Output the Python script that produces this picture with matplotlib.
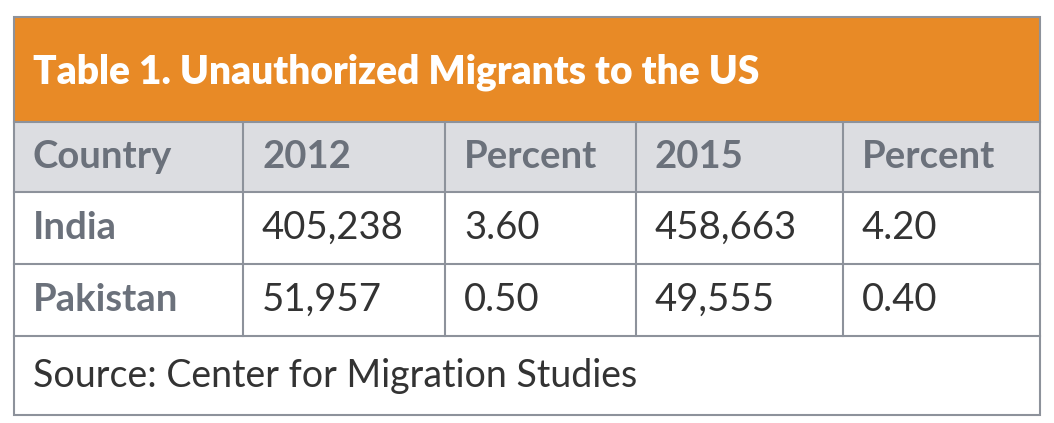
import matplotlib
matplotlib.use("Agg")
import matplotlib.pyplot as plt
from matplotlib.patches import Rectangle

title = "Table 1. Unauthorized Migrants to the US"
headers = ["Country", "2012", "Percent", "2015", "Percent"]
countries = ["India", "Pakistan"]
v2012 = ["405,238", "51,957"]
p2012 = ["3.60", "0.50"]
v2015 = ["458,663", "49,555"]
p2015 = ["4.20", "0.40"]
source = "Source: Center for Migration Studies"

W, H = 1054, 423
fig = plt.figure(figsize=(W/100, H/100), dpi=100)
ax = fig.add_axes([0, 0, 1, 1])
ax.set_xlim(0, W); ax.set_ylim(H, 0); ax.axis("off")

L, R = 14, 1040
top, hdr, r1, r2, r3, bot = 17, 122, 192, 264, 336, 415
cols = [L, 243, 445, 636, 843, R]
line = "#8d929b"
txt = "#6b717b"
font = "Lato"

ax.add_patch(Rectangle((L, top), R-L, hdr-top, color="#e88a26", lw=0))
ax.add_patch(Rectangle((L, hdr), R-L, r1-hdr, color="#dcdde1", lw=0))
ax.add_patch(Rectangle((L, top), R-L, bot-top, fill=False, ec=line, lw=1.5))
for y in [hdr, r1, r2, r3]:
    ax.plot([L, R], [y, y], color=line, lw=1.5)
for x in cols[1:-1]:
    ax.plot([x, x], [hdr, r3], color=line, lw=1.5)

ax.text(33, 72, title, color="white", fontsize=28, fontweight="heavy", family=font, va="center")
rows = [(headers, hdr, r1)]
for i in range(2):
    rows.append(([countries[i], v2012[i], p2012[i], v2015[i], p2015[i]], [r1, r2][i], [r2, r3][i]))
for k, (cells, y0, y1) in enumerate(rows):
    for j, c in enumerate(cells):
        bold = (k == 0 or j == 0)
        ax.text(cols[j] + 19, (y0 + y1) / 2, c, color=txt if bold else "#333333",
                fontsize=27.5, fontweight="bold" if bold else "normal", family=font, va="center")
ax.text(33, (r3 + bot) / 2, source, color="#333333", fontsize=27, family=font, va="center")
fig.savefig("out.png", dpi=100)
